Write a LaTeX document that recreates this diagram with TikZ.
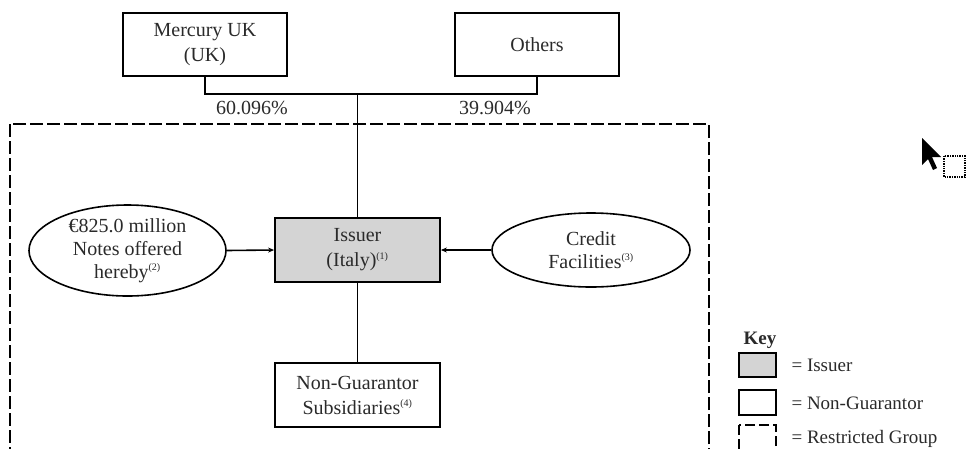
\documentclass[tikz,border=0pt]{standalone}
\usepackage{fontspec}
\setmainfont{Liberation Serif}
\usetikzlibrary{arrows.meta,shapes.geometric}

\definecolor{IssuerGray}{HTML}{D4D4D4}
\definecolor{Ink}{HTML}{2A2A2A}

\tikzset{
  entity/.style={draw=black, line width=1.8pt, rectangle, inner sep=0pt,
    minimum width=164pt, minimum height=63pt, align=center, text=Ink,
    font=\fontsize{20}{25}\selectfont},
  issuerbox/.style={entity, fill=IssuerGray},
  debt/.style={draw=black, line width=1.6pt, ellipse, inner sep=0pt, align=center,
    text=Ink, font=\fontsize{20}{23}\selectfont},
  link/.style={line width=1.6pt},
  feed/.style={link, -{Stealth[length=6pt,width=5pt]}},
  group/.style={line width=2pt, dash pattern=on 13pt off 4pt},
  pct/.style={text=Ink, font=\fontsize{20}{24}\selectfont},
  keytext/.style={anchor=west, text=Ink, font=\fontsize{19}{22}\selectfont},
  keybox/.style={line width=1.6pt}
}
\newcommand{\fnref}[1]{\textsuperscript{\fontsize{10}{10}\selectfont(#1)}}

\begin{document}
\begin{tikzpicture}[x=1pt, y=-1pt]
 \useasboundingbox (0,0) rectangle (966,448);

 %%%%%%%%%% Restricted group %%%%%%%%%%
 \draw [group] (10,124) rectangle (709,470) ;

 %%%%%%%%%% Shareholders %%%%%%%%%%
 \node [entity] (mercury) at (205,44.5) {Mercury UK\\(UK)};
 \node [entity] (others) at (537,44.5) {Others};
 \coordinate (junction) at (357.5,94);

 %%%%%%%%%% Group entities %%%%%%%%%%
 \node [issuerbox, minimum width=165pt, minimum height=64pt] (issuer) at (357.5,250) {Issuer\\(Italy)\fnref{1}};
 \node [entity, minimum width=165pt, minimum height=64pt] (nonguar) at (357.5,395) {Non-Guarantor\\Subsidiaries\fnref{4}};
 \node [debt, minimum width=197pt, minimum height=91pt] (notes) at (127.5,250.5) {€825.0 million\\Notes offered\\hereby\fnref{2}};
 \node [debt, minimum width=198pt, minimum height=74pt] (credit) at (591,250) {Credit\\Facilities\fnref{3}};

 %%%%%%%%%% Ownership %%%%%%%%%%
 \draw [link] (mercury.south) -- (mercury.south |- junction) -- (others.south |- junction) -- (others.south) ;
 \draw [link] (junction) -- (issuer.north) ;
 \draw [link] (issuer.south) -- (nonguar.north) ;
 \node [pct] (pctmercury) at (252,108) {60.096\%};
 \node [pct] (pctothers) at (495,108) {39.904\%};

 %%%%%%%%%% Debt %%%%%%%%%%
 \draw [feed] (notes.east) -- (issuer.west) ;
 \draw [feed] (credit.west) -- (issuer.east) ;

 %%%%%%%%%% Key %%%%%%%%%%
 \node [text=Ink, font=\fontsize{19}{22}\selectfont\bfseries] (keytitle) at (760,340) {Key};
 \draw [keybox, fill=IssuerGray] (739,353) rectangle (776,377) ;
 \draw [keybox] (739,390) rectangle (776,415) ;
 \draw [keybox, dash pattern=on 10pt off 4pt] (739,425) rectangle (776,452) ;
 \node [keytext] (keyissuer) at (788,365) {= Issuer};
 \node [keytext] (keynonguar) at (788,403) {= Non-Guarantor};
 \node [keytext] (keygroup) at (788,439) {= Restricted Group};

 %%%%%%%%%% Pointer %%%%%%%%%%
 \fill [black] (922,138) -- (922,165) -- (928,159) -- (933,170) -- (937,168) -- (932,157) -- (941,157) -- cycle ;
 \draw [densely dotted, line width=1.4pt] (944,156) rectangle (965,177) ;

\end{tikzpicture}
\end{document}
